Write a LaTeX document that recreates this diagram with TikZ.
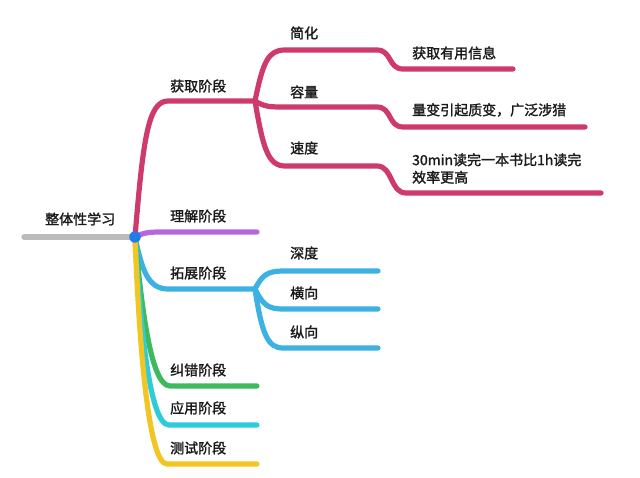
\documentclass[tikz,border=0pt]{standalone}
\usepackage{fontspec}
\setmainfont[FakeBold=1.6,AutoFakeBold=1.6]{Noto Sans CJK SC}
\definecolor{cPink}{HTML}{CE3A6C}
\definecolor{cPurple}{HTML}{B766E0}
\definecolor{cBlue}{HTML}{3DB2E2}
\definecolor{cGreen}{HTML}{3DBA5E}
\definecolor{cCyan}{HTML}{2ECCD9}
\definecolor{cYellow}{HTML}{F1C522}
\definecolor{cGray}{HTML}{BBBBBB}
\definecolor{cDot}{HTML}{1F7CE8}
\definecolor{cText}{HTML}{1A1A1A}
\begin{document}
\begin{tikzpicture}[x=1pt,y=-1pt,
  br/.style={line width=5.2pt,line cap=round,line join=round},
  lbl/.style={anchor=west,inner sep=0pt,font=\fontsize{14}{17.5}\selectfont\bfseries,text=cText,align=left}]
\useasboundingbox[fill=white] (0,0) rectangle (640,478);
% coordinates
\coordinate (rootL) at (24,237);
\coordinate (root) at (135,237);
\coordinate (hA) at (255,101);
\coordinate (hT) at (255,289);
% labels
\node[lbl] (tRoot) at (45,219) {整体性学习};
\node[lbl] (tA) at (170,86) {获取阶段};
\node[lbl] (tU) at (170,216) {理解阶段};
\node[lbl] (tT) at (170,273) {拓展阶段};
\node[lbl] (tE) at (170,370) {纠错阶段};
\node[lbl] (tP) at (170,408) {应用阶段};
\node[lbl] (tX) at (170,448) {测试阶段};
\node[lbl] (tA1) at (290,33) {简化};
\node[lbl] (tA2) at (290,92) {容量};
\node[lbl] (tA3) at (290,148) {速度};
\node[lbl] (tA1a) at (412,53) {获取有用信息};
\node[lbl] (tA2a) at (412,110) {量变引起质变，广泛涉猎};
\node[lbl] (tA3a) at (412,168.5) {30min读完一本书比1h读完\\效率更高};
\node[lbl] (tT1) at (290,253) {深度};
\node[lbl] (tT2) at (290,293) {横向};
\node[lbl] (tT3) at (290,332) {纵向};
% root line
\draw[br,cGray] (rootL) -- (root);
% main branches
\draw[br,cPink] (root) .. controls (143,140) and (148,101) .. (168,101) -- (hA);
\draw[br,cPurple] (root) .. controls (145,232) and (150,232) .. (165,232) -- (257,232);
\draw[br,cBlue] (root) .. controls (142,270) and (148,289) .. (168,289) -- (hT);
\draw[br,cGreen] (root) .. controls (141,300) and (150,386) .. (170,386) -- (257,386);
\draw[br,cCyan] (root) .. controls (140,320) and (149,425) .. (169,425) -- (257,425);
\draw[br,cYellow] (root) .. controls (139,340) and (148,464) .. (167,464) -- (257,464);
% pink sub-branches
\draw[br,cPink] (hA) .. controls (263,62) and (268,50) .. (285,50) -- (377,50)
   .. controls (392,50) and (388,69) .. (403,69) -- (513,69);
\draw[br,cPink] (hA) .. controls (265,107) and (270,107) .. (285,107) -- (377,107)
   .. controls (392,107) and (388,127) .. (403,127) -- (585,127);
\draw[br,cPink] (hA) .. controls (263,148) and (268,166) .. (285,166) -- (377,166)
   .. controls (393,166) and (390,193) .. (406,193) -- (601,193);
% blue sub-branches
\draw[br,cBlue] (hT) .. controls (262,275) and (268,271) .. (283,271) -- (378,271);
\draw[br,cBlue] (hT) .. controls (263,305) and (268,309) .. (283,309) -- (378,309);
\draw[br,cBlue] (hT) .. controls (262,335) and (268,348) .. (283,348) -- (378,348);
% hub dot
\node[circle,fill=cDot,inner sep=0pt,minimum size=11.5pt] (dot) at (root) {};
\end{tikzpicture}
\end{document}
